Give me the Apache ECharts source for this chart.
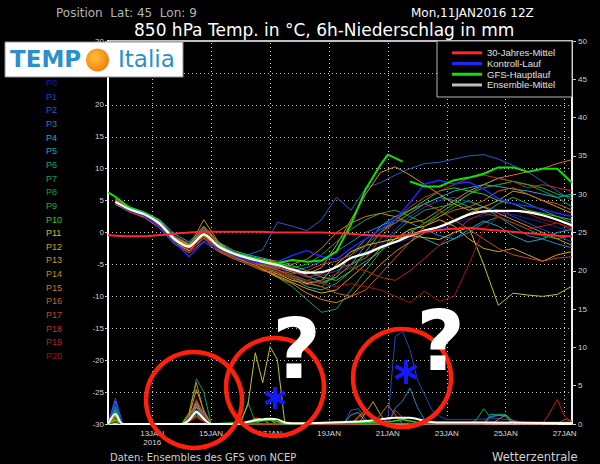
<!DOCTYPE html>
<html>
<head>
<meta charset="utf-8">
<script src="https://cdn.jsdelivr.net/npm/echarts@6/dist/echarts.min.js"></script>
<style>html,body{margin:0;padding:0;background:#000;}#c{width:600px;height:464px;}</style>
</head>
<body>
<div id="c"></div>
<script>
// hours since 11JAN2016 12Z
const hours = [0,6,18,30,42,54,66,78,90,102,114,126,138,150,162,174,186,198,210,222,234,246,258,270,282,294,306,318,330,342,354,366,378];
const dayTicks = [36,84,132,180,228,276,324,372];
const dayTickLabels = ['13JAN\n2016','15JAN','17JAN','19JAN','21JAN','23JAN','25JAN','27JAN'];

const memberNames = ['P0','P1','P2','P3','P4','P5','P6','P7','P8','P9','P10','P11','P12','P13','P14','P15','P16','P17','P18','P19','P20'];
const memberColors = ['#1c1caa','#2442c4','#2060c8','#2080c8','#20a8c8','#18a8a8','#10a878','#10a060','#10a040','#20b020','#30c830','#c8c020','#d0a818','#d09818','#d08818','#d07818','#c86018','#c84818','#c83018','#c02018','#a81010'];

// 850 hPa temperature (°C) of the ensemble members
const tP0  = [null,4.6,3.4,2.9,1.0,-1.3,-2.6,-0.6,-2.5,-3.6,-4.3,-5.0,-5.5,-6.2,-7.0,-6.5,-5.5,-4.0,-3.0,-2.2,-1.6,-1.0,-0.2,0.6,1.4,2.2,2.6,3.2,2.8,2.2,1.6,0.8,0.2];
const tP1  = [null,5.0,3.8,2.6,1.6,-0.8,-2.0,0.0,-2.0,-3.0,-3.8,-4.4,-5.3,-6.6,-7.5,-6.8,-6.0,-5.0,-4.0,-2.0,0.5,2.5,4.0,5.0,5.5,4.8,4.0,3.5,2.5,1.5,0.5,-0.5,-1.5];
const tP2  = [null,4.4,3.2,2.4,0.8,-1.4,-2.8,-1.0,-2.6,-3.8,-3.5,-2.7,1.6,1.0,0.3,2.0,5.5,3.5,7.0,7.8,9.0,10.0,10.8,11.0,11.5,12.0,12.2,11.5,10.5,9.5,8.0,6.5,5.0];
const tP3  = [null,4.9,3.5,3.0,1.8,-0.5,-1.8,0.5,-1.8,-3.0,-4.2,-4.8,-5.6,-6.0,-5.5,-4.5,-3.0,-1.5,0.0,1.0,2.0,1.5,0.5,-0.5,-1.0,0.0,1.5,2.5,1.0,-0.5,-1.0,-1.8,-2.4];
const tP4  = [null,5.2,4.0,3.2,2.0,-0.2,-1.5,1.0,-1.5,-2.8,-3.5,-4.0,-4.6,-5.5,-6.8,-7.8,-7.0,-5.0,-2.0,1.0,2.5,3.5,4.5,5.5,6.5,7.0,7.5,7.2,6.8,6.5,6.0,5.5,6.0];
const tP5  = [null,4.7,3.6,2.7,1.2,-1.2,-2.4,-0.8,-2.3,-3.4,-4.6,-5.5,-6.2,-7.2,-8.5,-9.0,-8.0,-6.0,-4.5,-3.0,-1.0,0.5,-1.0,-2.0,-1.0,0.5,1.8,1.0,-0.5,-1.5,-1.0,0.0,0.5];
const tP6  = [null,4.5,3.7,2.5,1.3,-1.1,-2.2,-0.2,-2.4,-3.2,-4.1,-5.0,-5.8,-7.0,-8.0,-8.5,-6.5,-3.5,-1.0,0.5,1.5,3.0,4.5,5.5,5.0,4.0,3.0,4.5,5.5,4.5,3.5,2.5,1.5];
const tP7  = [null,5.1,3.9,2.9,1.5,-0.9,-2.1,-0.5,-2.6,-3.6,-4.8,-5.8,-7.0,-8.5,-10.5,-12.5,-12.0,-9.0,-6.0,-3.0,0.0,2.0,3.5,4.0,4.5,6.0,7.5,8.5,8.0,7.5,6.5,5.5,4.0];
const tP8  = [null,4.8,3.3,2.6,1.1,-1.5,-2.5,-0.4,-2.0,-3.1,-3.9,-4.5,-5.0,-5.5,-5.0,-3.5,-1.5,0.5,2.0,3.0,3.5,2.5,1.5,2.5,4.0,5.0,4.0,2.5,1.5,0.5,-0.5,-1.0,-0.5];
const tP9  = [null,4.9,3.6,2.8,1.6,-1.0,-2.3,-0.1,-2.1,-3.5,-4.4,-5.2,-6.0,-6.8,-7.5,-8.0,-7.0,-5.0,-3.5,-2.5,-1.5,0.0,1.5,3.0,4.5,6.0,7.0,7.5,8.0,7.5,7.0,6.0,5.5];
const tP10 = [null,5.3,3.8,3.1,1.9,-0.7,-1.9,0.3,-1.9,-3.0,-3.7,-4.3,-4.9,-5.2,-6.0,-7.0,-7.5,-6.0,-3.0,0.0,2.0,3.5,5.0,6.5,7.0,6.5,6.0,5.0,4.5,3.5,3.0,2.5,2.0];
const tP11 = [null,4.6,3.5,2.5,1.2,-1.6,-2.9,-0.9,-2.8,-3.9,-4.7,-5.3,-6.5,-7.5,-8.0,-7.5,-5.0,-3.0,-2.0,-1.5,-1.0,-0.5,-0.8,-1.1,0.0,0.8,-5.0,-11.4,-9.5,-9.8,-10.0,-9.7,-8.4];
const tP12 = [null,5.0,3.7,2.9,1.3,-0.6,-2.0,0.8,-1.7,-3.2,-4.5,-5.7,-6.8,-7.8,-8.8,-9.5,-9.0,-7.0,-5.0,-2.5,-1.0,0.5,1.0,2.0,1.0,-1.0,-2.5,-3.0,-2.5,-3.5,-4.5,-3.5,-3.0];
const tP13 = [null,4.5,3.4,2.6,1.0,-1.2,-2.4,-0.5,-2.4,-3.4,-4.1,-4.6,-5.4,-6.2,-6.5,-5.5,-2.0,2.0,6.0,9.4,10.3,9.0,7.5,6.0,4.5,3.5,4.0,5.0,6.5,6.0,5.0,4.0,3.0];
const tP14 = [null,4.8,3.6,2.7,1.4,-1.1,-2.3,2.0,-1.5,-3.3,-4.5,-5.8,-7.0,-8.0,-9.5,-10.5,-11.0,-10.0,-7.5,-5.0,-3.0,-1.5,0.0,1.0,2.0,3.0,4.0,3.0,2.0,1.0,0.0,-1.0,-2.0];
const tP15 = [null,5.1,3.9,3.0,1.7,-0.9,-2.1,-0.2,-2.2,-3.1,-3.8,-4.2,-4.5,-5.0,-4.2,-2.5,0.0,1.5,2.5,3.0,2.5,1.5,2.0,3.5,5.0,6.5,7.5,8.5,9.0,9.5,10.0,10.8,11.4];
const tP16 = [null,4.4,3.2,2.3,0.7,-1.8,-3.2,-1.4,-3.0,-4.1,-5.0,-6.0,-6.5,-7.0,-7.8,-8.5,-9.5,-10.0,-9.0,-6.5,-4.0,-1.5,1.0,2.5,3.5,4.0,5.0,6.5,7.0,6.0,5.0,4.5,3.5];
const tP17 = [null,4.7,3.5,2.8,1.1,-1.4,-2.6,-0.7,-2.6,-3.7,-4.4,-5.1,-5.9,-6.5,-6.0,-5.0,-4.5,-3.5,-2.0,0.0,1.5,3.0,4.5,3.5,2.0,0.5,-1.0,-2.5,-3.5,-4.0,-4.5,-4.0,-3.8];
const tP18 = [null,5.2,3.9,2.9,1.5,-0.6,-1.7,0.6,-2.0,-3.0,-4.0,-4.8,-5.5,-6.0,-7.0,-6.5,-5.5,-5.0,-4.0,-1.0,2.0,4.0,5.5,6.5,7.5,8.5,9.0,8.5,8.0,7.0,7.5,7.0,6.5];
const tP19 = [null,4.6,3.3,2.5,1.0,-1.7,-3.0,-0.9,-2.7,-3.9,-4.9,-5.6,-6.3,-7.2,-8.2,-7.5,-6.5,-5.5,-6.0,-7.0,-7.5,-6.0,-4.0,-2.0,0.0,2.0,3.0,2.5,1.5,0.5,1.0,1.5,0.5];
const tP20 = [null,4.9,3.6,2.7,1.3,-1.0,-2.5,-0.8,-2.3,-3.5,-4.6,-5.4,-6.0,-7.0,-7.5,-8.0,-8.5,-8.0,-8.5,-9.0,-10.0,-11.0,-9.2,-10.8,-10.0,-5.0,0.5,2.5,3.5,3.0,2.0,1.5,0.8];
const memberT = [tP0,tP1,tP2,tP3,tP4,tP5,tP6,tP7,tP8,tP9,tP10,tP11,tP12,tP13,tP14,tP15,tP16,tP17,tP18,tP19,tP20];

const tControl = [null,4.6,3.4,2.6,0.8,-1.5,-3.8,-1.5,-2.5,-3.5,-4.5,-4.8,-4.6,-3.6,-2.8,-3.8,-4.2,-2.5,-1.0,0.5,2.0,4.7,7.6,8.2,7.6,7.9,6.8,5.3,4.5,4.1,3.7,3.0,2.5];
const tMean    = [null,4.8,3.6,2.8,1.4,-1.0,-2.2,-0.3,-2.2,-3.3,-4.0,-4.6,-5.1,-5.8,-6.3,-6.2,-5.4,-4.0,-3.3,-2.3,-1.5,-0.5,0.3,0.9,1.8,2.8,3.3,3.4,3.4,3.2,2.7,2.0,1.1];
const tClimate = [-0.4,-0.5,-0.6,-0.6,-0.4,-0.2,0,0.1,0.1,0.1,0.1,0.1,0,0,0,0,-0.1,-0.2,-0.4,-0.5,-0.6,-0.3,0.1,0.4,0.6,0.7,0.5,0.3,0.1,-0.1,-0.3,-0.5,-0.6];
const mainHours = [0,6,18,30,42,54,66,78,90,102,114,126,138,150,162,174,186,198,210,222,228,240,243,246,258,270,282,294,306,318,330,342,354,366,378];
const tMain     = [6.3,5.6,3.8,3.0,1.5,-1.2,-2.3,-0.2,-2.0,-3.2,-3.8,-4.4,-4.8,-4.3,-4.6,-4.4,-3.0,1.3,6.8,10.6,12.2,11.1,null,8.0,7.2,7.2,8.2,8.6,9.2,10.2,10.2,9.5,10.0,10.0,7.8];

// 6h precipitation (mm) as [hour, mm]
const rrP0  = [[0,0],[6,1.5],[12,0],[60,0],[66,0.6],[72,2.2],[78,0.8],[84,0]];
const rrP1  = [[0,0],[6,3.4],[12,0],[60,0],[66,1.0],[72,3.0],[78,1.5],[84,0],[222,0],[228,0.5],[234,11.4],[240,12.1],[246,9.7],[252,5.8],[258,3.8],[264,1.8],[270,1.0],[276,0.6],[300,0.6],[318,0.7],[330,0.5],[342,0]];
const rrP2  = [[0,0],[6,2.5],[12,0],[60,0],[66,0.8],[72,2.6],[78,1.0],[84,0],[192,0],[198,1.8],[204,2.0],[210,0.6],[216,0]];
const rrP3  = [[0,0],[6,2.0],[12,0],[60,0],[66,0.5],[72,2.4],[78,1.2],[84,0],[228,0],[234,2.1],[240,3.0],[246,4.7],[252,2.2],[258,0.5],[264,0],[306,0],[312,1.0],[324,1.2],[330,0]];
const rrP4  = [[0,0],[6,3.0],[12,0],[60,0],[66,0.4],[72,1.8],[78,0.6],[84,0],[192,0],[198,1.2],[204,1.5],[210,0.3],[216,0]];
const rrP5  = [[0,0],[6,1.8],[12,0],[60,0],[66,0.3],[72,1.2],[78,0.5],[84,0],[306,0],[312,1.3],[324,1.0],[330,0]];
const rrP6  = [[0,0],[6,1.2],[12,0],[60,0],[66,0.7],[72,1.6],[78,0.4],[84,0]];
const rrP7  = [[0,0],[6,2.2],[12,0],[60,0],[66,1.2],[72,5.9],[78,4.2],[84,0],[294,0],[300,0.5],[306,2.0],[312,0.8],[318,1.3],[324,1.2],[330,0]];
const rrP8  = [[0,0],[6,1.0],[12,0],[60,0],[66,0.4],[72,1.4],[78,0.6],[84,0],[108,0],[114,2.8],[120,0.3],[126,0]];
const rrP9  = [[0,0],[6,1.6],[12,0],[60,0],[66,0.6],[72,1.8],[78,0.5],[84,0]];
const rrP10 = [[0,0],[6,0.8],[12,0],[60,0],[66,0.5],[72,1.5],[78,0.7],[84,0]];
const rrP11 = [[0,0],[6,0.5],[12,0],[60,0],[66,0.6],[72,2.2],[78,0.8],[84,0],[102,0],[108,0.3],[114,2.5],[120,9.3],[126,5.4],[132,10.1],[138,8.4],[144,0.1],[150,0]];
const rrP12 = [[0,0],[6,1.0],[12,0],[60,0],[66,0.8],[72,2.8],[78,1.0],[84,0],[114,0],[120,0.6],[132,0.5],[138,0]];
const rrP13 = [[0,0],[6,0.6],[12,0],[60,0],[66,1.0],[72,4.5],[78,1.8],[84,0],[204,0],[210,1.5],[216,2.9],[222,1.2],[228,0]];
const rrP14 = [[0,0],[6,1.2],[12,0],[60,0],[66,1.5],[72,5.4],[78,1.5],[84,0],[114,0],[120,0.8],[126,0.6],[132,0],[198,0],[204,1.0],[210,1.8],[216,1.0],[222,0]];
const rrP15 = [[0,0],[6,0.4],[12,0],[60,0],[66,0.5],[72,1.0],[78,0.3],[84,0],[312,0],[318,0.6],[324,1.2],[330,0.4],[336,0]];
const rrP16 = [[0,0],[6,0.9],[12,0],[60,0],[66,0.7],[72,2.5],[78,1.0],[84,0],[216,0],[222,1.2],[228,2.5],[234,1.2],[240,0]];
const rrP17 = [[0,0],[6,0.6],[12,0],[60,0],[66,0.6],[72,3.2],[78,1.2],[84,0],[198,0],[204,0.8],[210,1.5],[216,0.5],[222,0]];
const rrP18 = [[0,0],[6,0.3],[12,0],[60,0],[66,0.3],[72,1.0],[78,0.4],[84,0],[366,0],[372,0.6],[378,0.4]];
const rrP19 = [[0,0],[6,0.5],[12,0],[60,0],[66,0.4],[72,1.3],[78,0.5],[84,0],[228,0],[234,1.8],[240,0.8],[246,0],[354,0],[360,1.5],[366,3.2],[372,1.0],[378,0.2]];
const rrP20 = [[0,0],[6,0.2],[12,0],[60,0],[66,0.3],[72,0.8],[78,0.3],[84,0]];
const memberRR = [rrP0,rrP1,rrP2,rrP3,rrP4,rrP5,rrP6,rrP7,rrP8,rrP9,rrP10,rrP11,rrP12,rrP13,rrP14,rrP15,rrP16,rrP17,rrP18,rrP19,rrP20];
const rrControl = [[0,0],[6,2.8],[12,0],[60,0],[66,0.8],[72,2.0],[78,1.0],[84,0]];
const rrMain = [[0,0],[6,0.5],[12,0],[60,0],[66,0.6],[72,1.5],[78,0.6],[84,0],[120,0.3],[132,0.6],[144,0],[230,0.3],[240,0.6],[252,0.2],[270,0.2],[378,0.2]];
const rrMean = [[0,0],[6,1.3],[12,0],[60,0],[66,0.5],[72,1.6],[78,0.7],[84,0],[108,0],[114,0.3],[120,0.5],[126,0.6],[132,0.7],[138,0.6],[144,0.2],[150,0.1],[198,0.3],[210,0.4],[222,0.6],[234,0.8],[246,0.8],[258,0.4],[270,0.2],[306,0.2],[378,0.1]];

const legendNames = ['30-Jahres-Mittel','Kontroll-Lauf','GFS-Hauptlauf','Ensemble-Mittel'];

const chart = echarts.init(document.getElementById('c'), null, {renderer:'svg', width:600, height:464});

const series = [];
memberT.forEach((vals, i) => {
  series.push({name: memberNames[i], type:'line', yAxisIndex:0, color: memberColors[i],
    data: hours.map((h,k)=>[h, vals[k]]), showSymbol:false, symbol:'none',
    lineStyle:{width:1, color: memberColors[i]}, z:2, silent:true});
});
memberRR.forEach((pts, i) => {
  series.push({name: memberNames[i], type:'line', yAxisIndex:1, color: memberColors[i],
    data: pts, showSymbol:false, symbol:'none',
    lineStyle:{width:1, color: memberColors[i]}, z:3, silent:true});
});
series.push({name:'Kontroll-Lauf', type:'line', yAxisIndex:0, color:'#2424ff', data: hours.map((h,k)=>[h,tControl[k]]), showSymbol:false, symbol:'none', lineStyle:{width:1.5}, z:4, silent:true});
series.push({name:'Kontroll-Lauf', type:'line', yAxisIndex:1, color:'#2424ff', data: rrControl, showSymbol:false, symbol:'none', lineStyle:{width:1}, z:4, silent:true});
series.push({name:'GFS-Hauptlauf', type:'line', yAxisIndex:0, color:'#10e010', data: mainHours.map((h,k)=>[h,tMain[k]]), showSymbol:false, symbol:'none', lineStyle:{width:2}, z:5, silent:true});
series.push({name:'GFS-Hauptlauf', type:'line', yAxisIndex:1, color:'#10e010', data: rrMain, showSymbol:false, symbol:'none', lineStyle:{width:1.5}, z:5, silent:true});
series.push({name:'Ensemble-Mittel', type:'line', yAxisIndex:0, color:'#ffffff', data: hours.map((h,k)=>[h,tMean[k]]), showSymbol:false, symbol:'none', smooth:0.3, lineStyle:{width:2.2}, z:6, silent:true});
series.push({name:'Ensemble-Mittel', type:'line', yAxisIndex:1, color:'#ffffff', data: rrMean, showSymbol:false, symbol:'none', smooth:0.3, lineStyle:{width:2}, z:6, silent:true});
series.push({name:'30-Jahres-Mittel', type:'line', yAxisIndex:0, color:'#ff2828', data: hours.map((h,k)=>[h,tClimate[k]]), showSymbol:false, symbol:'none', smooth:0.3, lineStyle:{width:2}, z:7, silent:true,
  markLine:{silent:true, symbol:['none','none'], label:{show:false}, z:1,
    lineStyle:{color:'#c8c8c8', type:[1,3], width:1},
    data: dayTicks.map(v=>({xAxis:v}))}});

function asterisk(cx, cy, r){
  const c = Math.cos(Math.PI/6)*r, s = Math.sin(Math.PI/6)*r;
  const st = {stroke:'#1418ff', lineWidth:4, lineCap:'butt'};
  return {type:'group', z:101, children:[
    {type:'line', shape:{x1:cx, y1:cy-r, x2:cx, y2:cy+r}, style:st, z:101},
    {type:'line', shape:{x1:cx-c, y1:cy-s, x2:cx+c, y2:cy+s}, style:st, z:101},
    {type:'line', shape:{x1:cx-c, y1:cy+s, x2:cx+c, y2:cy-s}, style:st, z:101}
  ]};
}
const ring = {fill:'none', stroke:'#ff200c', lineWidth:4.5};
const qm = {text:'?', fill:'#ffffff', font:'bold 84px "DejaVu Sans"', align:'center', verticalAlign:'middle'};

const option = {
  backgroundColor:'#000',
  animation:false,
  textStyle:{fontFamily:'"Liberation Sans", Arial, sans-serif'},
  title:[
    {text:'850 hPa Temp. in °C, 6h-Niederschlag in mm', left:134, top:21, padding:0, textStyle:{color:'#ffffff', fontSize:17, fontWeight:'normal', fontFamily:'"DejaVu Sans"', lineHeight:17}},
    {text:'Position  Lat: 45  Lon: 9', left:56, top:6, padding:0, textStyle:{color:'#b4b4b4', fontSize:12, fontWeight:'normal', fontFamily:'"DejaVu Sans"', lineHeight:13}},
    {text:'Mon,11JAN2016 12Z', left:411, top:6, padding:0, textStyle:{color:'#ffffff', fontSize:12, fontWeight:'normal', fontFamily:'"DejaVu Sans"', lineHeight:13}},
    {text:'Daten: Ensembles des GFS von NCEP', left:110, top:452, padding:0, textStyle:{color:'#d0d0d0', fontSize:10, fontWeight:'normal', fontFamily:'"DejaVu Sans"'}},
    {text:'Wetterzentrale', left:492, top:451, padding:0, textStyle:{color:'#d0d0d0', fontSize:11.5, fontWeight:'normal', fontFamily:'"DejaVu Sans"'}}
  ],
  legend:[
    {data: legendNames.map((n,i)=>({name:n, itemStyle: i===3 ? {color:'#bcbcbc'} : undefined})),
     orient:'vertical', left:452, top:47.5, padding:0, itemGap:0, itemWidth:30, itemHeight:3, itemTextGap:11,
     icon:'rect', selectedMode:false, z:10,
     textStyle:{color:'#e0e0e0', fontSize:9.5, lineHeight:10.7}},
    {data: memberNames.map((n,i)=>({name:n, textStyle:{color: memberColors[i]}})),
     orient:'vertical', left:40, top:77.5, padding:0, itemGap:2.65, itemWidth:1, itemHeight:1, itemTextGap:0,
     icon:'rect', selectedMode:false, itemStyle:{opacity:0}, z:10,
     textStyle:{fontSize:9, lineHeight:11}}
  ],
  grid:{left:108, right:28, top:41, bottom:40, show:true, borderColor:'#ffffff', borderWidth:1.5, backgroundColor:'transparent'},
  xAxis:{type:'value', min:0, max:378,
    axisLine:{show:true, onZero:false, lineStyle:{color:'#ffffff', width:1.5}},
    axisTick:{show:false}, splitLine:{show:false},
    axisLabel:{customValues: dayTicks, color:'#d8d8d8', fontSize:8, margin:5, lineHeight:9,
      formatter:(v)=>{const k = dayTicks.indexOf(v); return k>=0 ? dayTickLabels[k] : '';}}},
  yAxis:[
    {type:'value', min:-30, max:30, interval:5, position:'left',
     axisLine:{show:true, lineStyle:{color:'#ffffff', width:2}},
     axisTick:{show:true, length:3, lineStyle:{color:'#cccccc'}},
     axisLabel:{color:'#d0d0d0', fontSize:8, margin:4},
     splitLine:{show:true, lineStyle:{color:'#c0c0c0', type:[1,3], width:1}}},
    {type:'value', min:0, max:50, interval:5, position:'right',
     axisLine:{show:true, lineStyle:{color:'#ffffff', width:1.5}},
     axisTick:{show:true, length:4, lineStyle:{color:'#cccccc'}},
     axisLabel:{color:'#d0d0d0', fontSize:8, margin:6},
     splitLine:{show:false}}
  ],
  series: series,
  graphic:[
    // legend frame
    {type:'rect', shape:{x:437, y:41, width:135, height:56}, style:{fill:'#000', stroke:'#b8b8b8', lineWidth:1}, z:3, silent:true},
    // logo
    {type:'rect', shape:{x:5, y:42, width:178, height:35}, style:{fill:'#ffffff', stroke:'#909090', lineWidth:1}, z:50, silent:true},
    {type:'text', x:10, y:59, style:{text:'TEMP', fill:'#2b8fcb', font:'bold 23px "DejaVu Sans"', align:'left', verticalAlign:'middle'}, z:51, silent:true},
    {type:'circle', shape:{cx:97.5, cy:60, r:11.5}, style:{fill:{type:'radial', x:0.4, y:0.4, r:0.7, colorStops:[{offset:0, color:'#ffc23a'},{offset:1, color:'#f07808'}]}}, z:51, silent:true},
    {type:'text', x:118, y:59, style:{text:'Italia', fill:'#2b8fcb', font:'23px "DejaVu Sans"', align:'left', verticalAlign:'middle'}, z:51, silent:true},
    // annotations
    {type:'circle', shape:{cx:194, cy:400, r:48}, style:ring, z:100, silent:true},
    {type:'circle', shape:{cx:275, cy:387, r:49}, style:ring, z:100, silent:true},
    {type:'circle', shape:{cx:402, cy:378, r:49}, style:ring, z:100, silent:true},
    {type:'text', x:296.5, y:349, style:qm, z:100, silent:true},
    {type:'text', x:440.5, y:341, style:qm, z:100, silent:true},
    asterisk(275, 398, 11),
    asterisk(406, 372, 12)
  ]
};
chart.setOption(option);
</script>
</body>
</html>
